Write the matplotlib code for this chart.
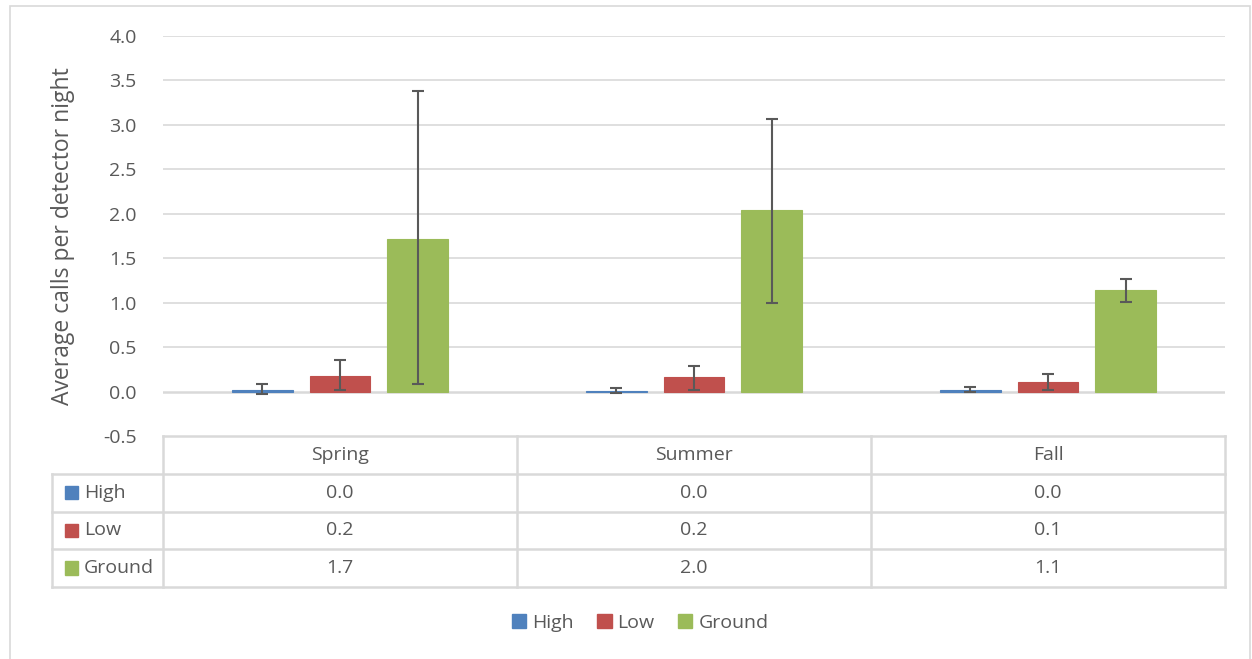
import numpy as np
import matplotlib.pyplot as plt
from matplotlib.patches import Patch, Rectangle
from matplotlib.lines import Line2D

plt.rcParams['font.family'] = ['Open Sans', 'DejaVu Sans']

seasons = ['Spring', 'Summer', 'Fall']
series = ['High', 'Low', 'Ground']
colors = ['#4F81BD', '#C0504D', '#9BBB59']

high = [0.02, 0.005, 0.015]
low = [0.18, 0.16, 0.11]
ground = [1.72, 2.04, 1.14]
high_err_top = [0.09, 0.04, 0.05]
high_err_bot = [-0.03, -0.02, -0.01]
low_err_top = [0.35, 0.29, 0.20]
low_err_bot = [0.02, 0.02, 0.02]
ground_err_top = [3.38, 3.07, 1.27]
ground_err_bot = [0.08, 1.00, 1.01]
table_vals = [['0.0', '0.0', '0.0'],
              ['0.2', '0.2', '0.1'],
              ['1.7', '2.0', '1.1']]
yticks = [-0.5, 0.0, 0.5, 1.0, 1.5, 2.0, 2.5, 3.0, 3.5, 4.0]

W, H = 1252, 659
grey = '#D9D9D9'
txt = '#595959'
fs = 14

fig = plt.figure(figsize=(W / 100, H / 100), dpi=100)
fig.patches.append(Rectangle((10 / W, -0.05), (W - 12) / W, 1.05 - 6 / H, transform=fig.transFigure,
                             fill=False, edgecolor=grey, lw=1.2))

x0, x1 = 163, 1225
ax = fig.add_axes([x0 / W, 1 - 436 / H, (x1 - x0) / W, (436 - 36) / H])
ax.set_xlim(-0.5, 2.5)
ax.set_ylim(-0.5, 4.0)
for s in ax.spines.values():
    s.set_visible(False)
ax.set_yticks(yticks)
ax.set_yticklabels(['%.1f' % v for v in yticks])
ax.tick_params(axis='y', length=0, labelsize=fs, labelcolor=txt, pad=19)
ax.set_xticks([])
for v in yticks[1:]:
    ax.axhline(v, color=grey, lw=1.2 if v != 0 else 1.8, zorder=0)
ax.set_ylabel('Average calls per detector night', fontsize=16.5, color=txt, labelpad=20)

x = np.arange(3)
width = 0.172
offs = [-0.22, 0, 0.22]
vals = [high, low, ground]
tops = [high_err_top, low_err_top, ground_err_top]
bots = [high_err_bot, low_err_bot, ground_err_bot]
for i in range(3):
    v = np.array(vals[i])
    yerr = [v - np.array(bots[i]), np.array(tops[i]) - v]
    ax.bar(x + offs[i], v, width, color=colors[i], edgecolor=colors[i], lw=0.8, zorder=2)
    ax.errorbar(x + offs[i], v, yerr=yerr, fmt='none', ecolor='#595959', elinewidth=1.5,
                capsize=4.5, capthick=1.5, zorder=3)

# data table
tax = fig.add_axes([x0 / W, 1 - 587 / H, (x1 - x0) / W, (587 - 436) / H])
tax.set_xlim(-0.5, 2.5)
tax.set_ylim(4, 0)
tax.axis('off')
left = -0.5 - (x0 - 52) / ((x1 - x0) / 3)
lk = dict(color=grey, lw=1.8, clip_on=False)
tax.add_line(Line2D([-0.5, 2.5], [0, 0], **lk))
for r in range(1, 5):
    tax.add_line(Line2D([left, 2.5], [r, r], **lk))
for c in [-0.5, 0.5, 1.5, 2.5]:
    tax.add_line(Line2D([c, c], [0, 4], **lk))
tax.add_line(Line2D([left, left], [1, 4], **lk))
for j, s in enumerate(seasons):
    tax.text(j, 0.5, s, ha='center', va='center', fontsize=fs, color=txt)
for i, name in enumerate(series):
    for j in range(3):
        tax.text(j, i + 1.5, table_vals[i][j], ha='center', va='center', fontsize=fs, color=txt)
    tax.add_patch(Rectangle((left + 0.037, i + 1.5 - 0.18), 0.037, 0.36, color=colors[i], clip_on=False))
    tax.text(left + 0.09, i + 1.5, name, ha='left', va='center', fontsize=fs, color=txt)

handles = [Patch(color=c, label=n) for c, n in zip(colors, series)]
fig.legend(handles=handles, loc='center', bbox_to_anchor=(640 / W, 1 - 623 / H), ncol=3,
           frameon=False, fontsize=fs, labelcolor=txt, handlelength=0.75, handleheight=0.75,
           handletextpad=0.3, columnspacing=1.2)

fig.savefig('out.png', dpi=100)
